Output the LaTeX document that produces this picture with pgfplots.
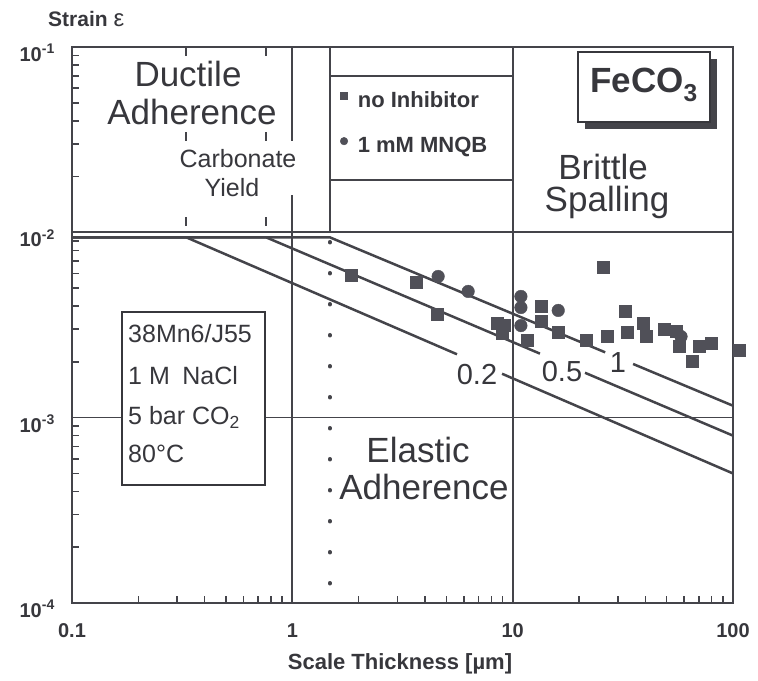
\documentclass[border=0pt]{standalone}
\usepackage{pgfplots}
\pgfplotsset{compat=1.18}
\usepackage{fontspec}
\setmainfont{Liberation Sans}
\definecolor{ink}{RGB}{55,55,60}
\definecolor{lin}{RGB}{68,68,74}
\definecolor{mk}{RGB}{80,80,88}
\newcommand\fsz[1]{\fontsize{#1bp}{#1bp}\selectfont}
\begin{document}
\begin{tikzpicture}[every node/.append style={text=ink}]
\path (-72bp,-78bp) rectangle (686bp,603bp);
\begin{axis}[
  at={(0,0)}, anchor=south west,
  scale only axis, width=661bp, height=556bp,
  xmode=log, ymode=log, xmin=0.1, xmax=100, ymin=1e-4, ymax=1e-1,
  clip=false,
  axis line style={draw=lin, line width=2.6bp},
  tick pos=left, tick align=inside,
  major tick length=8bp, minor tick length=7bp,
  every tick/.style={draw=lin, line width=1.6bp},
  xtick={0.1,1,10,100}, xticklabels={0.1,1,10,100},
  minor xtick={0.2,0.3,0.4,0.5,0.6,0.7,0.8,0.9,2,3,4,5,6,7,8,9,20,30,40,50,60,70,80,90},
  ytick={1e-4,1e-3,1e-2,1e-1},
  yticklabels={10\textsuperscript{-4},10\textsuperscript{-3},10\textsuperscript{-2},10\textsuperscript{-1}},
  minor ytick={2e-4,3e-4,4e-4,5e-4,6e-4,7e-4,8e-4,9e-4,2e-3,3e-3,4e-3,5e-3,6e-3,7e-3,8e-3,9e-3,2e-2,3e-2,4e-2,5e-2,6e-2,7e-2,8e-2,9e-2},
  /pgf/number format/assume math mode=true,
  xticklabel style={font=\fsz{20}\bfseries, text=ink, anchor=base, inner sep=0pt, yshift=-34bp},
  yticklabel style={font=\fsz{20}\bfseries, text=ink, anchor=east, inner sep=0pt, xshift=-17bp, yshift=-6bp},
  legend style={at={(axis description cs:0.4055,0.919)}, anchor=north west, draw=none, fill=none, inner sep=0pt,
    font=\fsz{22}\bfseries, text=ink, row sep=26bp,
    nodes={inner sep=0pt, text height=15bp, text depth=4bp},
    /tikz/every odd column/.append style={column sep=10bp}},
  legend cell align=left,
  legend image code/.code={\draw[#1] plot coordinates {(4bp,6bp)};},
]
% boundary lines
\draw[lin, line width=2bp] (axis cs:0.1,1e-2) -- (axis cs:100,1e-2);
\draw[lin, line width=1.3bp] (axis cs:0.1,1e-3) -- (axis cs:100,1e-3);
\draw[lin, line width=2bp] (axis cs:1,1e-4) -- (axis cs:1,1e-1);
\draw[lin, line width=2bp] (axis cs:10,1e-4) -- (axis cs:10,1e-1);
\draw[lin, line width=2bp] (axis cs:1.48,1e-2) -- (axis cs:1.48,1e-1);
\draw[lin, line width=1.8bp] (axis cs:1.48,0.0697) -- (axis cs:10,0.0697);
\draw[lin, line width=1.8bp] (axis cs:1.48,0.01915) -- (axis cs:10,0.01915);
\draw[lin, line width=2.2bp, dash pattern=on 9bp off 76bp] (axis cs:0.33,1e-1) -- (axis cs:0.33,1e-2);
\draw[lin, line width=2.2bp, dash pattern=on 9bp off 76bp] (axis cs:0.76,1e-1) -- (axis cs:0.76,1e-2);
\draw[lin, line width=4bp, line cap=round, dash pattern=on 0.5bp off 30.5bp] (axis cs:1.48,0.00887) -- (axis cs:1.48,1e-4);
% curves
\addplot[lin, line width=2.5bp, forget plot] coordinates {(0.1,0.0094) (0.33,0.0094) (5.59,0.002198)};
\addplot[lin, line width=2.5bp, forget plot] coordinates {(8.95,0.001726) (100,5.0e-4)};
\addplot[lin, line width=2.5bp, forget plot] coordinates {(0.1,0.0094) (0.76,0.0094) (13.3,0.002216)};
\addplot[lin, line width=2.5bp, forget plot] coordinates {(21.3,0.001747) (100,8.0e-4)};
\addplot[lin, line width=2.5bp, forget plot] coordinates {(0.1,0.0094) (1.48,0.0094) (26.3,0.002252)};
\addplot[lin, line width=2.5bp, forget plot] coordinates {(35.2,0.001949) (100,1.16e-3)};
% data
\addplot[only marks, mark=square*, mark size=6bp, mark options={fill=mk, draw=mk}, forget plot] coordinates {
(1.852,0.00586) (3.65,0.00537) (4.55,0.00360) (25.7,0.00647) (13.5,0.00398) (13.5,0.00330)
(8.51,0.00322) (9.15,0.00314) (8.96,0.00284) (11.6,0.00261) (16.1,0.00288) (21.5,0.00261)
(26.8,0.00274) (32.4,0.00374) (33.0,0.00288) (39.1,0.00322) (40.3,0.00274) (48.7,0.00299)
(55.1,0.00292) (56.9,0.00242) (65.2,0.00201) (70.1,0.00242) (79.5,0.00251) (106.5,0.00230)};
\addplot[only marks, mark=*, mark size=6.3bp, mark options={fill=mk, draw=mk}, forget plot] coordinates {
(4.59,0.00578) (6.28,0.00480) (10.9,0.00451) (10.9,0.00393) (10.9,0.00314) (16.1,0.00379) (58.1,0.00274)};
\addlegendimage{only marks, mark=square*, mark size=3.6bp, mark options={fill=mk, draw=mk}}
\addlegendentry{no Inhibitor}
\addlegendimage{only marks, mark=*, mark size=3.8bp, mark options={fill=mk, draw=mk}}
\addlegendentry{1 mM MNQB}
\end{axis}
% annotations
\node[font=\fsz{21}\bfseries, anchor=base west, inner sep=0pt] at (-24bp,576bp) {Strain {\mdseries\fsz{24}ε}};
\node[font=\fsz{22}\bfseries, anchor=base] at (328bp,-66bp) {Scale Thickness [µm]};
\node[font=\fsz{35}, anchor=base] at (116bp,516bp) {Ductile};
\node[font=\fsz{35}, anchor=base] at (120bp,478bp) {Adherence};
\fill[white] (208bp,408bp) rectangle (228bp,462bp);
\node[font=\fsz{25}, anchor=base] at (166bp,435bp) {Carbonate};
\node[font=\fsz{25}, anchor=base] at (160bp,406bp) {Yield};
\node[font=\fsz{35}, anchor=base] at (531bp,423bp) {Brittle};
\node[font=\fsz{35}, anchor=base] at (535bp,391bp) {Spalling};
\node[font=\fsz{35}, anchor=base] at (346bp,140bp) {Elastic};
\node[font=\fsz{35}, anchor=base] at (352bp,103bp) {Adherence};
\draw[ink, line width=2.2bp, fill=white] (50bp,118bp) rectangle (193bp,291bp);
\node[font=\fsz{25}, anchor=base west, inner sep=0pt] at (56bp,260bp) {38Mn6/J55};
\node[font=\fsz{25}, anchor=base west, inner sep=0pt] at (56bp,218bp) {1 M\hspace{0.5em}NaCl};
\node[font=\fsz{25}, anchor=base west, inner sep=0pt] at (56bp,178bp) {5 bar CO\textsubscript{2}};
\node[font=\fsz{25}, anchor=base west, inner sep=0pt] at (56bp,140bp) {80°C};
\fill[lin] (513bp,474bp) rectangle (645bp,544bp);
\draw[ink, line width=1.6bp, fill=white] (506bp,481bp) rectangle (638bp,551bp);
\node[font=\fsz{35}\bfseries, anchor=base] at (572bp,510bp) {FeCO\textsubscript{3}};
\node[font=\fsz{29}, anchor=center] at (405bp,228bp) {0.2};
\node[font=\fsz{29}, anchor=center] at (490bp,231bp) {0.5};
\node[font=\fsz{29}, anchor=center] at (546bp,240bp) {1};
\end{tikzpicture}
\end{document}
